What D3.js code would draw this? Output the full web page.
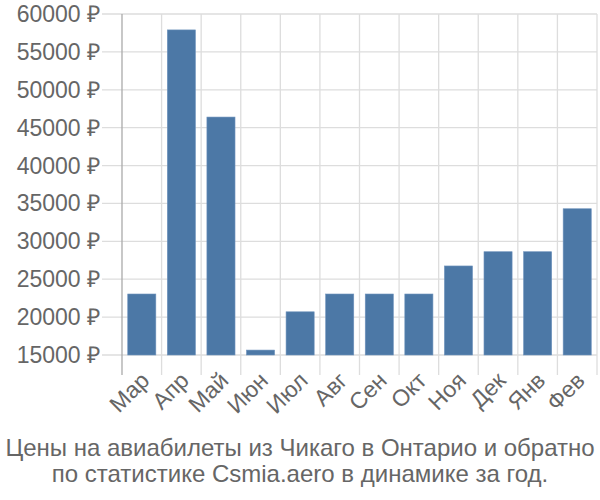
<!DOCTYPE html>
<html><head><meta charset="utf-8">
<script src="https://cdn.jsdelivr.net/npm/d3@7"></script>
<style>body{margin:0;background:#fff}svg{display:block}</style>
</head><body><svg width="600" height="500"></svg>
<script>
const months = ["Мар","Апр","Май","Июн","Июл","Авг","Сен","Окт","Ноя","Дек","Янв","Фев"];
const prices = [23050, 57900, 46400, 15650, 20700, 23050, 23050, 23050, 26750, 28630, 28630, 34300];
const yTicks = [15000,20000,25000,30000,35000,40000,45000,50000,55000,60000];
const titleLines = ["Цены на авиабилеты из Чикаго в Онтарио и обратно","по статистике Csmia.aero в динамике за год."];

const svg = d3.select("svg");
const L = 122, R = 597, T = 14, B = 355;
const x = d3.scaleBand().domain(months).range([L, R]).paddingInner(0.29).paddingOuter(0.145);
const y = d3.scaleLinear().domain([15000, 60000]).range([B, T]);
const font = "'Liberation Sans', Arial, sans-serif";
const grid = "#dddddd", txt = "#666666";

svg.append("g").selectAll("line").data(yTicks).join("line")
  .attr("x1", 102).attr("x2", R).attr("y1", d => y(d)).attr("y2", d => y(d))
  .attr("stroke", grid).attr("stroke-width", 1.3);
const bounds = months.map((m,i) => L + i * (R-L)/months.length).concat([R]);
svg.append("g").selectAll("line").data(bounds).join("line")
  .attr("x1", d => d).attr("x2", d => d).attr("y1", T).attr("y2", 375)
  .attr("stroke", (d,i) => i === 0 ? "#aaaaaa" : grid).attr("stroke-width", 1.3);

svg.append("g").selectAll("rect").data(months).join("rect")
  .attr("x", d => x(d)).attr("width", x.bandwidth())
  .attr("y", (d,i) => y(prices[i])).attr("height", (d,i) => B - y(prices[i]))
  .attr("fill", "#4c78a6").attr("stroke", "#6f93bd").attr("stroke-width", 0.6);

svg.append("g").selectAll("text").data(yTicks).join("text")
  .attr("x", 100).attr("y", d => y(d)).attr("dy", "0.35em")
  .attr("text-anchor", "end").attr("fill", txt)
  .style("font", `23px ${font}`).text(d => d + " ₽");

svg.append("g").selectAll("text").data(months).join("text")
  .attr("transform", d => `translate(${x(d) + x.bandwidth()/2 + 9},${382}) rotate(-45)`)
  .attr("text-anchor", "end").attr("fill", txt)
  .style("font", `23px ${font}`).text(d => d);

svg.append("g").selectAll("text").data(titleLines).join("text")
  .attr("x", 300).attr("y", (d,i) => 456 + i * 26)
  .attr("text-anchor", "middle").attr("fill", txt)
  .style("font", `24px ${font}`).text(d => d);
</script></body></html>
